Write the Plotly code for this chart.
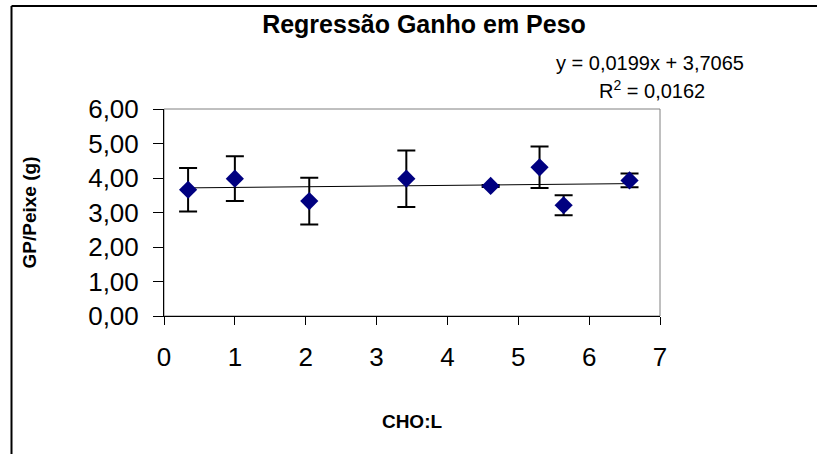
import plotly.graph_objects as go

# Data
cho_l = [0.34, 1.0, 2.05, 3.42, 4.61, 5.30, 5.64, 6.57]
gp_peixe = [3.66, 3.98, 3.33, 3.98, 3.77, 4.31, 3.21, 3.93]
erro = [0.63, 0.65, 0.68, 0.82, 0.03, 0.60, 0.29, 0.20]

slope = 0.0199
intercept = 3.7065
r2 = 0.0162

y_ticks = [0, 1, 2, 3, 4, 5, 6]
x_ticks = [0, 1, 2, 3, 4, 5, 6, 7]

font_family = "Liberation Sans, Arial, sans-serif"

trend_x = [min(cho_l), max(cho_l)]
trend_y = [slope * v + intercept for v in trend_x]

fig = go.Figure()
fig.add_trace(go.Scatter(
    x=trend_x, y=trend_y, mode="lines",
    line=dict(color="black", width=1), showlegend=False, hoverinfo="skip"))
fig.add_trace(go.Scatter(
    x=cho_l, y=gp_peixe, mode="markers",
    marker=dict(symbol="diamond", size=14, color="#000080", line=dict(width=0)),
    error_y=dict(type="data", array=erro, visible=True, color="black", thickness=2, width=9),
    showlegend=False))

W, H = 817, 454
L, R, T, B = 164, 157, 109, 138
pw, ph = W - L - R, H - T - B

def px(xp):
    return (xp - L) / pw

def py(yp):
    return (H - B - yp) / ph

border = dict(color="black", width=2)

fig.update_layout(
    width=W, height=H,
    margin=dict(l=L, r=R, t=T, b=B, autoexpand=False),
    paper_bgcolor="white", plot_bgcolor="white",
    separators=",.",
    font=dict(family=font_family, color="black"),
    title=dict(text="<b>Regressão Ganho em Peso</b>", x=px(424), xref="paper", xanchor="center",
               y=1 - 24 / H, yanchor="middle", font=dict(size=25, family=font_family)),
    xaxis=dict(range=[0, 7], tickvals=x_ticks, ticks="outside", ticklen=8, tickwidth=1,
               tickcolor="black", showline=True, linecolor="black", linewidth=1,
               showgrid=False, zeroline=False, tickfont=dict(size=26), ticklabelstandoff=10,
               title=dict(text="<b>CHO:L</b>", font=dict(size=19), standoff=43)),
    yaxis=dict(range=[0, 6], tickvals=y_ticks, tickformat=".2f", ticks="outside", ticklen=10,
               tickwidth=1, tickcolor="black", showline=True, linecolor="black", linewidth=1,
               showgrid=False, zeroline=False, tickfont=dict(size=26), ticklabelstandoff=9,
               title=dict(text="<b>GP/Peixe (g)</b>", font=dict(size=19), standoff=46)),
    shapes=[
        dict(type="rect", xref="paper", yref="paper", x0=0, x1=1, y0=0, y1=1,
             line=dict(color="#808080", width=1), layer="below"),
        dict(type="line", xref="paper", yref="paper", x0=px(11.5), x1=px(11.5), y0=py(6), y1=py(600),
             line=border, layer="above"),
        dict(type="line", xref="paper", yref="paper", x0=px(11.5), x1=px(900), y0=py(6), y1=py(6),
             line=border, layer="above"),
    ],
    annotations=[
        dict(text=f"y = {slope:.4f}x + {intercept:.4f}".replace(".", ","), xref="paper", yref="paper",
             x=px(650), y=py(63), showarrow=False, font=dict(size=20), xanchor="center", yanchor="middle"),
        dict(text=f"R<sup>2</sup> = {r2:.4f}".replace(".", ","), xref="paper", yref="paper",
             x=px(652), y=py(89), showarrow=False, font=dict(size=20), xanchor="center", yanchor="middle"),
    ],
)

fig.write_html("out.html", config={"displayModeBar": False},
               post_script="document.body.style.margin='0px';document.body.style.overflow='hidden';")
